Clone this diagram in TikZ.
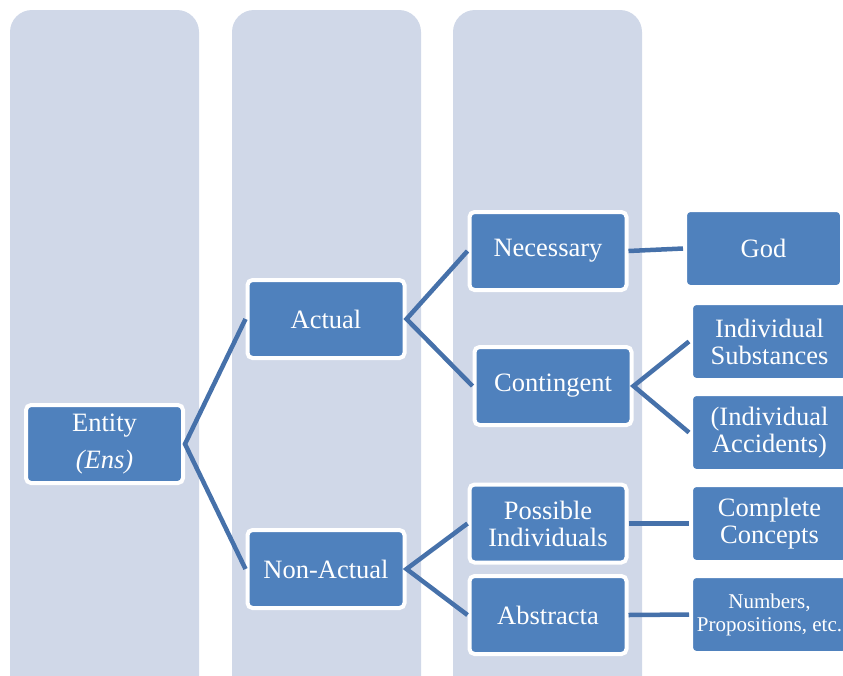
\documentclass[tikz,border=0pt]{standalone}
\usepackage{fontspec}
\setmainfont{Liberation Serif}
\definecolor{colbg}{HTML}{D0D8E8}
\definecolor{boxblue}{HTML}{4F81BD}
\definecolor{linkblue}{HTML}{4671AA}
\tikzset{
  kind/.style={draw=white, line width=4pt, fill=boxblue, rounded corners=5pt,
    minimum width=157pt, minimum height=78pt, text=white, align=center,
    font=\fontsize{26.5}{27}\selectfont, inner sep=2pt},
  small/.style={font=\fontsize{21}{23}\selectfont},
  link/.style={draw=linkblue, line width=4.5pt},
}
\begin{document}
\begin{tikzpicture}[x=1pt, y=-1pt]
  \useasboundingbox (0,0) rectangle (843,675);
  % background columns
  \begin{scope}[rounded corners=22pt]
    \fill[colbg] (10,10) rectangle (199,700);
    \fill[colbg] (232,10) rectangle (421,700);
    \fill[colbg] (453,10) rectangle (642,700);
  \end{scope}
  % nodes
  \node[kind] (ens) at (104.5,444) {Entity\\[10pt]\textit{(Ens)}};
  \node[kind] (actual) at (326,319) {Actual};
  \node[kind] (nonactual) at (326,569) {Non-Actual};
  \node[kind] (necessary) at (548,251) {Necessary};
  \node[kind] (contingent) at (553,386) {Contingent};
  \node[kind] (possible) at (548,523.5) {Possible\\Individuals};
  \node[kind] (abstracta) at (548,615) {Abstracta};
  \node[kind, minimum height=77pt] (god) at (763.5,248.5) {God};
  \node[kind, minimum height=77pt] (substances) at (769.5,341.5) {Individual\\Substances};
  \node[kind, minimum height=77pt] (accidents) at (769.5,432.5) {(Individual\\Accidents)};
  \node[kind, minimum height=77pt] (concepts) at (769.5,523.5) {Complete\\Concepts};
  \node[kind, small, minimum height=77pt] (numbers) at (769.5,614.5) {Numbers,\\Propositions, etc.};
  % links
  \draw[link] (actual.west) -- (ens.east) -- (nonactual.west);
  \draw[link] (necessary.west) -- (actual.east) -- (contingent.west);
  \draw[link] (possible.west) -- (nonactual.east) -- (abstracta.west);
  \draw[link] (substances.west) -- (contingent.east) -- (accidents.west);
  \draw[link] (necessary.east) -- (god.west);
  \draw[link] (possible.east) -- (concepts.west);
  \draw[link] (abstracta.east) -- (numbers.west);
\end{tikzpicture}
\end{document}
